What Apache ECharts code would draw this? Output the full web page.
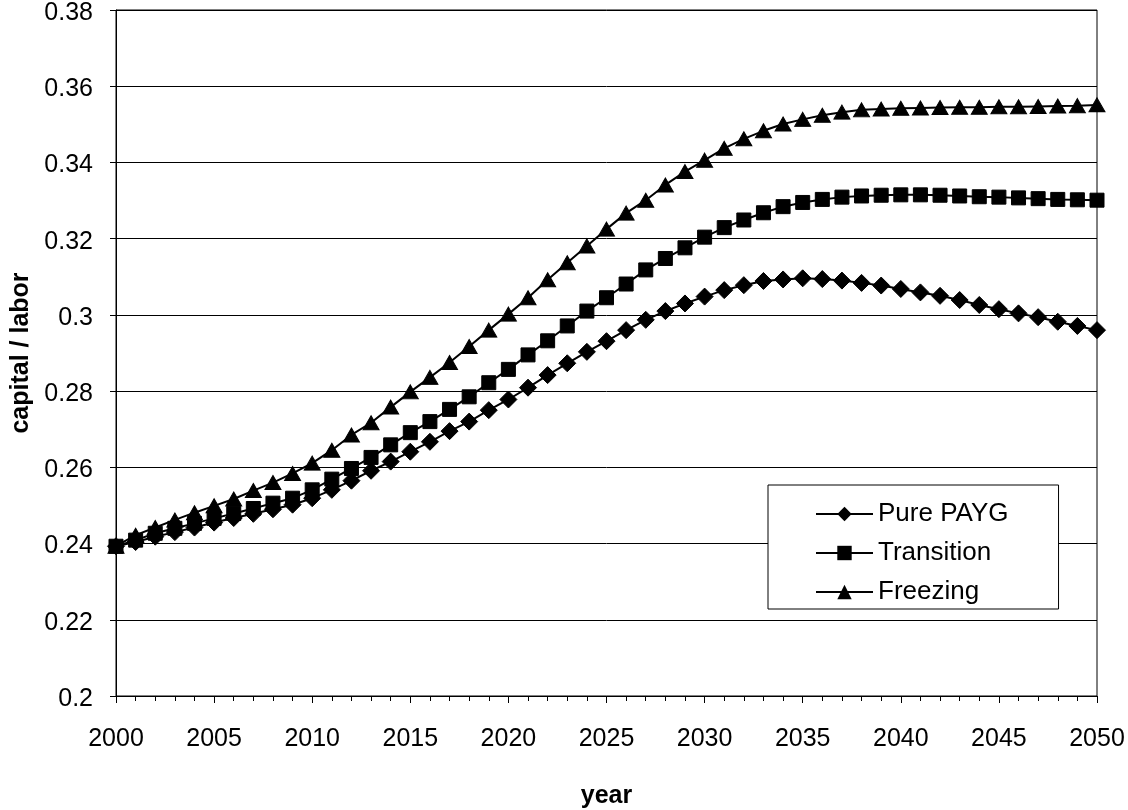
<!DOCTYPE html>
<html>
<head>
<meta charset="utf-8">
<script src="https://cdn.jsdelivr.net/npm/echarts@6/dist/echarts.min.js"></script>
<style>
html,body{margin:0;padding:0;background:#fff;}
#chart{width:1128px;height:810px;}
</style>
</head>
<body>
<div id="chart"></div>
<script>
const years = [];
for (let y = 2000; y <= 2050; y++) years.push(y);

const purePAYG = [
  0.2393, 0.2404, 0.2418, 0.2430, 0.2442, 0.2455, 0.2467, 0.2478, 0.2490, 0.2502,
  0.2519, 0.2541, 0.2565, 0.2591, 0.2615, 0.2641, 0.2667, 0.2695, 0.2720, 0.2750,
  0.2778, 0.2809, 0.2842, 0.2873, 0.2903, 0.2931, 0.2960, 0.2987, 0.3010, 0.3030,
  0.3048, 0.3065, 0.3078, 0.3089, 0.3093, 0.3096, 0.3094, 0.3090, 0.3084, 0.3077,
  0.3068, 0.3059, 0.3050, 0.3039, 0.3026, 0.3015, 0.3004, 0.2994, 0.2982, 0.2971,
  0.2960
];
const transition = [
  0.2393, 0.2409, 0.2427, 0.2440, 0.2453, 0.2466, 0.2479, 0.2492, 0.2506, 0.2519,
  0.2541, 0.2569, 0.2597, 0.2626, 0.2659, 0.2691, 0.2720, 0.2752, 0.2785, 0.2822,
  0.2857, 0.2895, 0.2932, 0.2971, 0.3010, 0.3045, 0.3081, 0.3118, 0.3148, 0.3176,
  0.3204, 0.3229, 0.3249, 0.3268, 0.3284, 0.3295, 0.3303, 0.3309, 0.3312, 0.3314,
  0.3315, 0.3315, 0.3314, 0.3312, 0.3310, 0.3309, 0.3307, 0.3305, 0.3303, 0.3302,
  0.3301
];
const freezing = [
  0.2393, 0.2422, 0.2442, 0.2462, 0.2481, 0.2499, 0.2517, 0.2539, 0.2560, 0.2584,
  0.2611, 0.2645, 0.2685, 0.2717, 0.2758, 0.2798, 0.2836, 0.2875, 0.2917, 0.2960,
  0.3002, 0.3045, 0.3092, 0.3137, 0.3181, 0.3225, 0.3267, 0.3301, 0.3341, 0.3376,
  0.3406, 0.3437, 0.3462, 0.3483, 0.3501, 0.3513, 0.3524, 0.3532, 0.3538, 0.3540,
  0.3542, 0.3543, 0.3544, 0.3545, 0.3545, 0.3546, 0.3546, 0.3547, 0.3548, 0.3549,
  0.3551
];
const seriesNames = ['Pure PAYG', 'Transition', 'Freezing'];
const seriesSymbols = ['diamond', 'rect', 'triangle'];
const seriesSizes = [17, 14, [16, 14]];
const seriesValues = [purePAYG, transition, freezing];

const FONT = '"Liberation Sans", Arial, sans-serif';
const chart = echarts.init(document.getElementById('chart'), null, {renderer: 'canvas'});

const option = {
  animation: false,
  backgroundColor: '#ffffff',
  grid: {
    left: 116, right: 31, top: 10, bottom: 114,
    outerBoundsMode: 'none',
    containLabel: false,
    show: true, borderColor: '#000', borderWidth: 1
  },
  xAxis: {
    type: 'value',
    min: 2000, max: 2050, interval: 5,
    name: 'year',
    nameLocation: 'middle',
    nameGap: 88,
    nameTextStyle: {fontFamily: FONT, fontSize: 25, fontWeight: 'bold', color: '#000'},
    axisLine: {lineStyle: {color: '#000', width: 1}},
    axisTick: {show: true, inside: false, length: 7, lineStyle: {color: '#000'}},
    minorTick: {show: true, splitNumber: 5, length: 5, lineStyle: {color: '#000'}},
    axisLabel: {margin: 31, fontFamily: FONT, fontSize: 25, color: '#000',
      formatter: v => String(v)},
    splitLine: {show: false}
  },
  yAxis: {
    type: 'value',
    min: 0.2, max: 0.38, interval: 0.02,
    name: 'capital / labor',
    nameLocation: 'middle',
    nameGap: 74,
    nameRotate: 90,
    nameTextStyle: {fontFamily: FONT, fontSize: 25, fontWeight: 'bold', color: '#000'},
    axisLine: {show: true, lineStyle: {color: '#000', width: 1}},
    axisTick: {show: true, length: 6, lineStyle: {color: '#000'}},
    axisLabel: {margin: 23, color: '#000',
      formatter: v => '{v|' + String(+v.toFixed(2)) + '}',
      rich: {v: {fontFamily: FONT, fontSize: 25, color: '#000', lineHeight: 25, padding: [6, 0, 0, 0]}}},
    splitLine: {show: true, lineStyle: {color: '#000', width: 1}}
  },
  legend: {
    orient: 'vertical',
    left: 768, top: 485,
    data: seriesNames,
    itemWidth: 57, itemHeight: 18, itemGap: 13,
    padding: [16, 50, 4, 47],
    backgroundColor: '#fff',
    borderColor: '#000', borderWidth: 1, borderRadius: 0,
    textStyle: {fontFamily: FONT, fontSize: 26, color: '#000', lineHeight: 26}
  },
  series: seriesNames.map((name, i) => ({
    name: name,
    type: 'line',
    data: years.map((y, k) => [y, seriesValues[i][k]]),
    symbol: seriesSymbols[i],
    symbolSize: seriesSizes[i],
    showAllSymbol: true,
    lineStyle: {color: '#000', width: 2},
    itemStyle: {color: '#000', borderColor: '#000'},
    z: 2 + i
  }))
};
chart.setOption(option);
</script>
</body>
</html>
